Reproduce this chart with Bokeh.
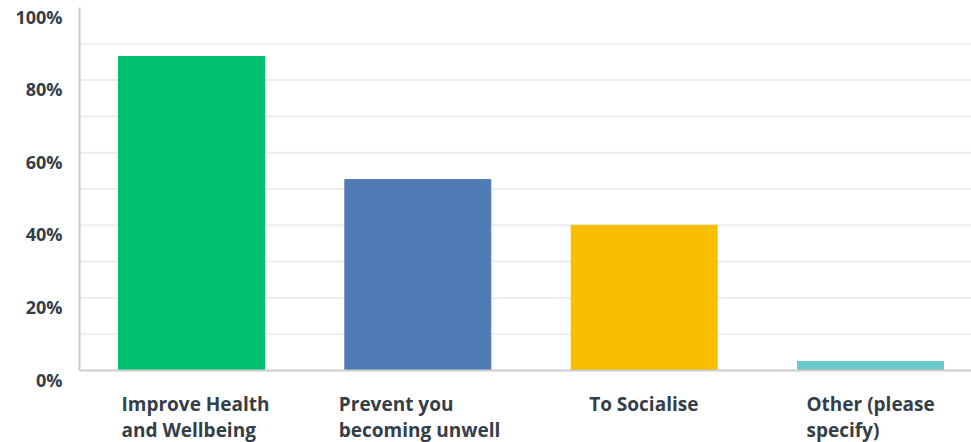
from bokeh.plotting import figure
from bokeh.models import Range1d, FixedTicker, ColumnDataSource, Label, LinearAxis
from bokeh.embed import file_html
from bokeh.resources import INLINE

categories = ["Improve Health\nand Wellbeing", "Prevent you\nbecoming unwell", "To Socialise", "Other (please\nspecify)"]
values = [86.5, 52.6, 40.0, 2.5]
colors = ["#00BF6F", "#507CB6", "#F9BE00", "#6BC8CD"]
y_ticks = [0, 20, 40, 60, 80, 100]
y_tick_labels = ["0%", "20%", "40%", "60%", "80%", "100%"]
grid_ticks = [10, 20, 30, 40, 50, 60, 70, 80, 90]

TEXT = "#333E48"
FONT = "Open Sans"
# ranges chosen so that the frame covers the whole canvas
XS, XE = -0.8439, 3.4463
YS, YE = -19.83, 101.93
X0 = -0.4949  # where the value axis sits
# layout: horizontal pixel shift of each left-aligned category label block
LABEL_DX = [-70, -79, -55, -64]

xs = list(range(len(categories)))
src = ColumnDataSource(dict(x=xs, top=values, color=colors))

p = figure(width=971, height=442, output_backend="svg", toolbar_location=None,
           x_range=Range1d(XS, XE), y_range=Range1d(YS, YE),
           x_axis_location=None, y_axis_location=None)
p.min_border = 0
p.min_border_left = 0
p.min_border_right = 0
p.min_border_top = 0
p.min_border_bottom = 0
p.outline_line_color = None

# grid lines (drawn from the axis to the right edge)
p.xgrid.visible = False
p.ygrid.visible = False
p.segment(x0=[X0] * len(grid_ticks), x1=[XE] * len(grid_ticks), y0=grid_ticks, y1=grid_ticks,
          line_color="#EEEEEE", line_width=2)

p.vbar(x="x", top="top", bottom=0, width=0.645, color="color", source=src)

yaxis = LinearAxis(ticker=FixedTicker(ticks=[]), fixed_location=X0, bounds=(0, 100),
                   axis_line_color="#CCCCCC", axis_line_width=2,
                   major_tick_line_color=None, minor_tick_line_color=None)
xaxis = LinearAxis(ticker=FixedTicker(ticks=[]), fixed_location=0, bounds=(X0, XE),
                   axis_line_color="#CCCCCC", axis_line_width=2,
                   major_tick_line_color=None, minor_tick_line_color=None)
p.add_layout(yaxis, "left")
p.add_layout(xaxis, "below")

for t, lab in zip(y_ticks, y_tick_labels):
    p.add_layout(Label(x=X0, y=t, text=lab, x_offset=-17, y_offset=-9,
                       text_align="right", text_baseline="middle",
                       text_font=FONT, text_font_style="bold",
                       text_font_size="18px", text_color=TEXT))

for i, lab in enumerate(categories):
    p.add_layout(Label(x=i, y=0, text=lab, x_offset=LABEL_DX[i], y_offset=-20,
                       text_align="left", text_baseline="top",
                       text_line_height=1.0,
                       text_font=FONT, text_font_style="bold",
                       text_font_size="19px", text_color=TEXT))

open("out.html", "w").write(file_html(p, INLINE))
